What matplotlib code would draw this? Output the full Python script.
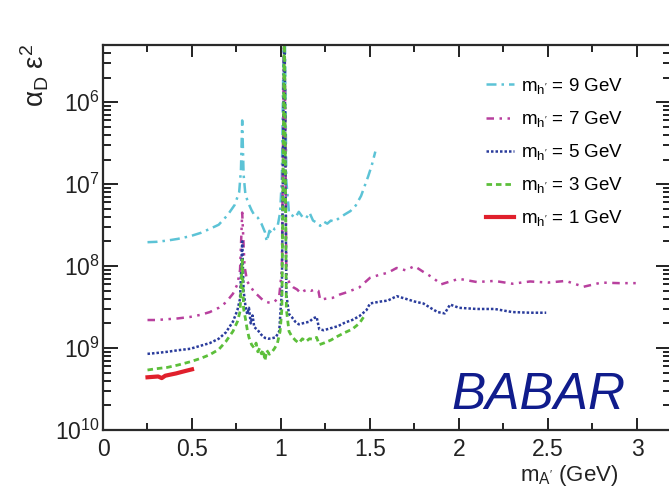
import numpy as np
import matplotlib
matplotlib.use("Agg")
import matplotlib.pyplot as plt
from matplotlib.ticker import MultipleLocator, FixedLocator, LogLocator, FuncFormatter, NullFormatter

plt.rcParams['font.family'] = ['Liberation Sans', 'DejaVu Sans']
plt.rcParams['mathtext.fontset'] = 'custom'
plt.rcParams['mathtext.rm'] = 'Liberation Sans'
plt.rcParams['mathtext.it'] = 'Liberation Sans:italic'
plt.rcParams['mathtext.bf'] = 'Liberation Sans:bold'

# Upper limits on alpha_D * eps^2 versus dark-photon mass, one curve per dark-Higgs mass
x_9 = [0.25, 0.30, 0.36, 0.42, 0.49, 0.55, 0.60, 0.65, 0.70, 0.74, 0.765, 0.775, 0.782, 0.79,
       0.80, 0.815, 0.835, 0.85, 0.87, 0.89, 0.91, 0.92, 0.935, 0.95, 0.965, 0.98, 0.995, 1.005,
       1.019, 1.03, 1.045, 1.06, 1.08, 1.10, 1.12, 1.14, 1.16, 1.18, 1.20, 1.22, 1.24, 1.26, 1.28,
       1.30, 1.33, 1.36, 1.39, 1.42, 1.45, 1.47, 1.49, 1.51, 1.53]
y_9 = [1.96e-8, 1.98e-8, 2.05e-8, 2.15e-8, 2.32e-8, 2.55e-8, 2.85e-8, 3.2e-8, 4.2e-8, 5.6e-8,
       8.0e-8, 1.5e-7, 6.0e-7, 1.3e-7, 7.5e-8, 6.0e-8, 4.8e-8, 4.2e-8, 3.9e-8, 3.3e-8, 2.6e-8,
       2.0e-8, 2.7e-8, 2.5e-8, 2.9e-8, 3.0e-8, 4.5e-8, 1.2e-7, 3e-5, 1.1e-7, 4.4e-8, 4.2e-8,
       3.9e-8, 4.6e-8, 4.0e-8, 3.8e-8, 4.5e-8, 3.6e-8, 3.4e-8, 3.1e-8, 3.5e-8, 3.3e-8, 3.6e-8,
       3.5e-8, 3.9e-8, 4.3e-8, 4.7e-8, 5.5e-8, 7.2e-8, 9.5e-8, 1.25e-7, 1.7e-7, 2.5e-7]

x_7 = [0.25, 0.30, 0.36, 0.42, 0.49, 0.55, 0.60, 0.65, 0.69, 0.73, 0.755, 0.77, 0.782, 0.795,
       0.81, 0.83, 0.85, 0.87, 0.89, 0.91, 0.93, 0.95, 0.97, 0.99, 1.005, 1.019, 1.03, 1.05,
       1.07, 1.09, 1.11, 1.13, 1.15, 1.17, 1.19, 1.21, 1.22, 1.25, 1.29, 1.33, 1.37, 1.44, 1.50,
       1.55, 1.60, 1.65, 1.70, 1.75, 1.80, 1.85, 1.90, 1.95, 2.0, 2.1, 2.2, 2.3, 2.4, 2.5, 2.6,
       2.7, 2.8, 2.9, 3.0]
y_7 = [2.2e-9, 2.2e-9, 2.25e-9, 2.3e-9, 2.4e-9, 2.55e-9, 2.75e-9, 3.1e-9, 3.6e-9, 4.6e-9,
       6.0e-9, 9.0e-9, 4.5e-8, 1.0e-8, 6.5e-9, 5.6e-9, 4.8e-9, 4.4e-9, 4.0e-9, 3.7e-9, 3.6e-9,
       3.55e-9, 3.8e-9, 4.3e-9, 9e-9, 2e-5, 8e-9, 6.0e-9, 5.5e-9, 5.2e-9, 4.7e-9, 5.0e-9,
       5.2e-9, 5.0e-9, 5.2e-9, 5.0e-9, 3.9e-9, 4.0e-9, 4.1e-9, 4.5e-9, 4.8e-9, 5.5e-9, 7.2e-9,
       7.8e-9, 8.3e-9, 9.5e-9, 8.9e-9, 1.0e-8, 8.5e-9, 7.3e-9, 6.0e-9, 6.5e-9, 7.0e-9, 6.4e-9,
       6.6e-9, 6.1e-9, 6.5e-9, 6.3e-9, 6.6e-9, 5.6e-9, 6.3e-9, 6.2e-9, 6.2e-9]

x_5 = [0.25, 0.30, 0.36, 0.42, 0.49, 0.55, 0.60, 0.65, 0.69, 0.73, 0.755, 0.77, 0.782, 0.79,
       0.80, 0.81, 0.82, 0.83, 0.84, 0.85, 0.87, 0.89, 0.91, 0.93, 0.95, 0.97, 0.99, 1.005,
       1.019, 1.03, 1.045, 1.06, 1.08, 1.10, 1.12, 1.14, 1.16, 1.18, 1.20, 1.215, 1.24, 1.28,
       1.32, 1.36, 1.40, 1.44, 1.48, 1.50, 1.53, 1.56, 1.60, 1.65, 1.70, 1.75, 1.80, 1.85,
       1.88, 1.92, 1.95, 2.0, 2.1, 2.2, 2.3, 2.4, 2.49]
y_5 = [8.5e-10, 8.7e-10, 9.0e-10, 9.4e-10, 9.8e-10, 1.07e-9, 1.15e-9, 1.3e-9, 1.55e-9, 2.1e-9,
       2.9e-9, 4.0e-9, 2.0e-8, 5.0e-9, 3.3e-9, 2.6e-9, 3.1e-9, 2.0e-9, 2.5e-9, 1.8e-9, 1.65e-9,
       1.45e-9, 1.33e-9, 1.3e-9, 1.32e-9, 1.35e-9, 1.6e-9, 5e-9, 1.5e-5, 4.5e-9, 2.6e-9, 2.4e-9,
       2.1e-9, 1.95e-9, 2.0e-9, 2.05e-9, 2.1e-9, 2.3e-9, 2.4e-9, 1.7e-9, 1.65e-9, 1.75e-9,
       1.85e-9, 2.05e-9, 2.2e-9, 2.45e-9, 2.9e-9, 3.5e-9, 3.6e-9, 3.7e-9, 3.8e-9, 4.3e-9,
       4.0e-9, 3.7e-9, 3.5e-9, 3.0e-9, 2.75e-9, 2.65e-9, 3.4e-9, 3.1e-9, 3.0e-9, 3.0e-9,
       2.75e-9, 2.7e-9, 2.7e-9]

x_3 = [0.25, 0.30, 0.36, 0.42, 0.49, 0.55, 0.60, 0.65, 0.69, 0.73, 0.755, 0.77, 0.782, 0.79,
       0.80, 0.81, 0.82, 0.835, 0.85, 0.86, 0.87, 0.88, 0.89, 0.90, 0.91, 0.92, 0.935, 0.95,
       0.965, 0.98, 0.995, 1.005, 1.019, 1.03, 1.045, 1.06, 1.08, 1.10, 1.12, 1.14, 1.16, 1.18,
       1.20, 1.215, 1.24, 1.28, 1.32, 1.36, 1.40, 1.44, 1.47]
y_3 = [5.4e-10, 5.6e-10, 5.8e-10, 6.2e-10, 6.8e-10, 7.5e-10, 8.3e-10, 9.6e-10, 1.2e-9, 1.6e-9,
       2.1e-9, 2.8e-9, 1.2e-8, 3.0e-9, 2.3e-9, 1.7e-9, 1.35e-9, 1.1e-9, 1.0e-9, 1.15e-9,
       9.0e-10, 1.0e-9, 8.5e-10, 9.5e-10, 7.0e-10, 9.4e-10, 8.4e-10, 9.0e-10, 1.0e-9, 1.15e-9,
       1.6e-9, 3e-9, 1e-5, 3e-9, 1.6e-9, 1.4e-9, 1.25e-9, 1.15e-9, 1.3e-9, 1.2e-9, 1.3e-9,
       1.28e-9, 1.35e-9, 1.1e-9, 1.15e-9, 1.25e-9, 1.4e-9, 1.55e-9, 1.7e-9, 2.0e-9, 2.5e-9]

x_1 = [0.25, 0.28, 0.31, 0.33, 0.35, 0.38, 0.41, 0.44, 0.47, 0.50]
y_1 = [4.4e-10, 4.45e-10, 4.5e-10, 4.3e-10, 4.6e-10, 4.75e-10, 4.9e-10, 5.1e-10, 5.3e-10, 5.5e-10]

labels = ["9", "7", "5", "3", "1"]
y_major = [1e-10, 1e-9, 1e-8, 1e-7, 1e-6]
x_major = [0, 0.5, 1, 1.5, 2, 2.5, 3]

W, H = 669, 491
fig = plt.figure(figsize=(W / 100, H / 100), dpi=100)
ax = fig.add_axes([103 / W, 1 - 430 / H, (670.8 - 103) / W, (430 - 45) / H])

styles = [
    (x_9, y_9, '#5cc3d6', (0, (4, 2, 1, 2)), 1.8),
    (x_7, y_7, '#b8409e', (0, (3, 2.2, 1, 2.2, 1, 2.2)), 1.8),
    (x_5, y_5, '#2a3c9c', (0, (1, 0.8)), 1.8),
    (x_3, y_3, '#5cbf3a', (0, (2, 1.4)), 2.0),
    (x_1, y_1, '#e0202c', '-', 3.0),
]
for (xs, ys, c, ls, lw), lab in zip(styles, labels):
    ax.plot(xs, ys, color=c, linestyle=ls, linewidth=lw,
            label=r"$\mathregular{m_{h'}}$ = " + lab + " GeV")

ax.set_yscale('log')
ax.set_xlim(0, 3.19)
ax.set_ylim(1e-10, 5e-6)

ax.xaxis.set_major_locator(FixedLocator(x_major))
ax.xaxis.set_minor_locator(MultipleLocator(0.25))
ax.yaxis.set_major_locator(FixedLocator(y_major))
ax.yaxis.set_minor_locator(LogLocator(base=10, subs=np.arange(2, 10)))
ax.yaxis.set_minor_formatter(NullFormatter())
ax.yaxis.set_major_formatter(FuncFormatter(
    lambda v, p: r"$\mathregular{10^{%d}}$" % round(-np.log10(v))))
ax.xaxis.set_major_formatter(FuncFormatter(lambda v, p: "%g" % v))

ax.tick_params(which='both', direction='in', top=True, right=True, colors='#222222',
               labelsize=16.5, width=1.4)
ax.tick_params(axis='x', which='major', length=8.5, pad=6)
ax.tick_params(axis='x', which='minor', length=5)
ax.tick_params(axis='y', which='major', length=11, pad=2)
ax.tick_params(axis='y', which='minor', length=5.5)
for s in ax.spines.values():
    s.set_linewidth(1.6)
    s.set_color('#2a2a2a')

leg = ax.legend(loc='upper left', bbox_to_anchor=(486 / W, 1 - 76 / H),
                bbox_transform=fig.transFigure, frameon=False, fontsize=13.5,
                handlelength=1.5, handletextpad=0.35, labelspacing=0.7,
                borderpad=0, borderaxespad=0)

fig.text(35 / W, 1 - 44 / H, r"$\mathregular{\alpha_D\ \varepsilon^2}$", rotation=90,
         ha='center', va='top', fontsize=20, color='#222222')
fig.text(618 / W, 1 - 475 / H, r"$\mathregular{m_{A'}}$ (GeV)", ha='right',
         va='center', fontsize=16, color='#222222')
fig.text(626 / W, 1 - 409 / H, "BABAR", ha='right', va='baseline', fontsize=37,
         style='italic', color='#101c8c')

fig.savefig("out.png", dpi=100)
